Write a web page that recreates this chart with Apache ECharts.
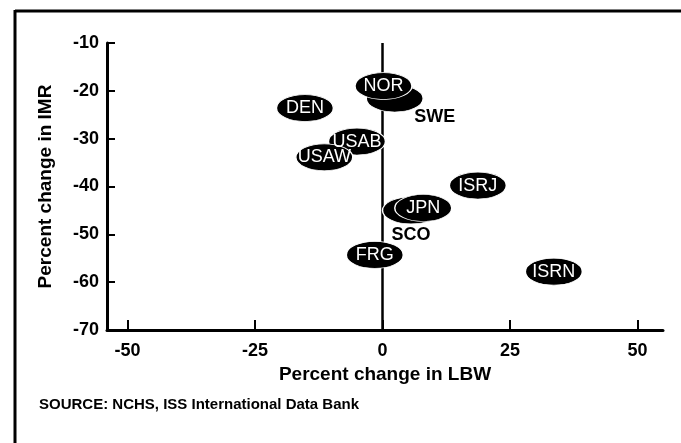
<!DOCTYPE html>
<html>
<head>
<meta charset="utf-8">
<script src="https://cdn.jsdelivr.net/npm/echarts@6/dist/echarts.min.js"></script>
<style>
  html, body { margin: 0; padding: 0; background: #fff; }
  #chart { width: 681px; height: 443px; }
</style>
</head>
<body>
<div id="chart"></div>
<script>
// countries, draw order matters (later ones sit on top)
var countries = ['DEN', 'SWE', 'NOR', 'USAB', 'USAW', 'ISRJ', 'SCO', 'JPN', 'FRG', 'ISRN'];
var lbwChange = [-15.2, 2.4, 0.2, -5.0, -11.4, 18.7, 5.6, 8.0, -1.5, 33.6];
var imrChange = [-23.6, -21.6, -19.0, -30.6, -33.9, -39.8, -45.0, -44.5, -54.3, -57.8];
var xTicks = [-50, -25, 0, 25, 50];
var yTicks = [-70, -60, -50, -40, -30, -20, -10];

// these two are hidden under a neighbour, so their name sits outside
var outsideLabel = { SWE: [40, 19], SCO: [0, 25] };

var font = '"Liberation Sans", Arial, Helvetica, sans-serif';
var ellipse = 'path://M0,12 A27,12 0 1,1 54,12 A27,12 0 1,1 0,12 Z';

var points = countries.map(function (c, i) {
    var item = { name: c, value: [lbwChange[i], imrChange[i]] };
    if (outsideLabel[c]) {
        item.label = {
            position: 'inside',
            offset: outsideLabel[c],
            color: '#000',
            fontWeight: 'bold'
        };
    }
    return item;
});

var option = {
    animation: false,
    grid: {
        left: 107,
        right: 18,
        top: 43,
        bottom: 113
    },
    graphic: [
        { type: 'line', shape: { x1: 15, y1: 11, x2: 681, y2: 11 }, style: { stroke: '#000', lineWidth: 3 } },
        { type: 'line', shape: { x1: 15, y1: 10, x2: 15, y2: 443 }, style: { stroke: '#000', lineWidth: 3 } },
        {
            type: 'text', left: 39, top: 397,
            style: {
                text: 'SOURCE: NCHS, ISS International Data Bank',
                font: 'bold 15px ' + font, fill: '#000'
            }
        }
    ],
    xAxis: {
        type: 'value',
        min: -54,
        max: 55,
        name: 'Percent change in LBW',
        nameLocation: 'middle',
        nameGap: 31,
        nameTextStyle: { fontFamily: font, fontSize: 19, fontWeight: 'bold', color: '#000' },
        axisLine: { onZero: false, lineStyle: { color: '#000', width: 3 } },
        axisTick: { inside: true, length: 10, customValues: xTicks, lineStyle: { color: '#000', width: 2 } },
        axisLabel: { customValues: xTicks, margin: 12, fontFamily: font, fontSize: 18, fontWeight: 'bold', color: '#000' },
        splitLine: { show: false }
    },
    yAxis: {
        type: 'value',
        min: -70,
        max: -10,
        interval: 10,
        name: 'Percent change in IMR',
        nameLocation: 'middle',
        nameGap: 52,
        nameTextStyle: { fontFamily: font, fontSize: 19, fontWeight: 'bold', color: '#000' },
        axisLine: { onZero: false, lineStyle: { color: '#000', width: 3 } },
        axisTick: { inside: true, length: 8, lineStyle: { color: '#000', width: 2 } },
        axisLabel: { margin: 8, fontFamily: font, fontSize: 18, fontWeight: 'bold', color: '#000' },
        splitLine: { show: false }
    },
    series: [{
        type: 'scatter',
        symbol: ellipse,
        symbolSize: [57, 27],
        itemStyle: { color: '#000', borderColor: '#fff', borderWidth: 1, opacity: 1 },
        label: {
            show: true,
            position: 'inside',
            formatter: '{b}',
            fontFamily: font,
            fontSize: 18,
            color: '#fff'
        },
        markLine: {
            silent: true,
            z: 1,
            symbol: 'none',
            label: { show: false },
            lineStyle: { color: '#000', width: 2.5, type: 'solid' },
            data: [{ xAxis: 0 }]
        },
        z: 3,
        data: points
    }]
};

var chart = echarts.init(document.getElementById('chart'));
chart.setOption(option);
</script>
</body>
</html>
